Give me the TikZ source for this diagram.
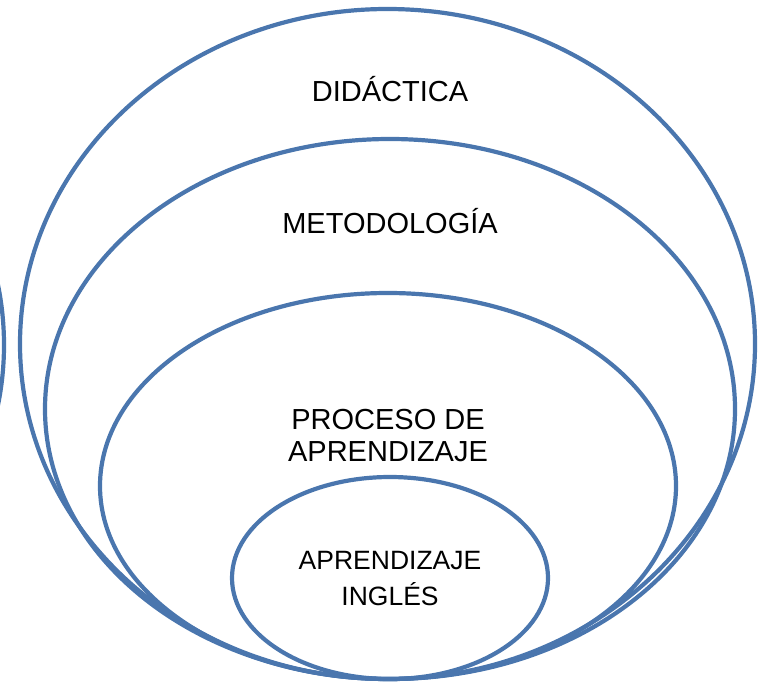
\documentclass[tikz,border=0pt]{standalone}
\usepackage{fontspec}
\setmainfont{Liberation Sans}
\usepackage{tikz}
\usetikzlibrary{positioning}

\definecolor{ringblue}{RGB}{74,118,174}

\begin{document}
\begin{tikzpicture}[x=1pt, y=-1pt,
    ring/.style={draw=ringblue, line width=4.2pt},
    biglabel/.style={anchor=base, align=center, font=\fontsize{29}{32}\selectfont},
    smalllabel/.style={anchor=base, align=center, font=\fontsize{26.5}{36}\selectfont}]
    \useasboundingbox (0,0) rectangle (759,682);

    % Cut-off ring at the left edge
    \begin{scope}
        \clip (0,0) rectangle (759,682);
        \draw[ring] (-296,345) circle (300pt);
    \end{scope}

    % Nested rings, all touching at the bottom
    \draw[ring] (387.5,344) ellipse (367.5pt and 335pt);
    \draw[ring] (390,409) ellipse (345pt and 270pt);
    \draw[ring] (388,486) ellipse (288pt and 193pt);
    \draw[ring] (390,578) ellipse (158pt and 101pt);

    % Labels (base = last line)
    \node[biglabel] (didactica) at (390,102) {DIDÁCTICA};
    \node[biglabel] (metodologia) at (390,233) {METODOLOGÍA};
    \node[biglabel] (proceso) at (388,461) {PROCESO DE\\APRENDIZAJE};
    \node[smalllabel] (ingles) at (390,605) {APRENDIZAJE\\INGLÉS};

\end{tikzpicture}
\end{document}
